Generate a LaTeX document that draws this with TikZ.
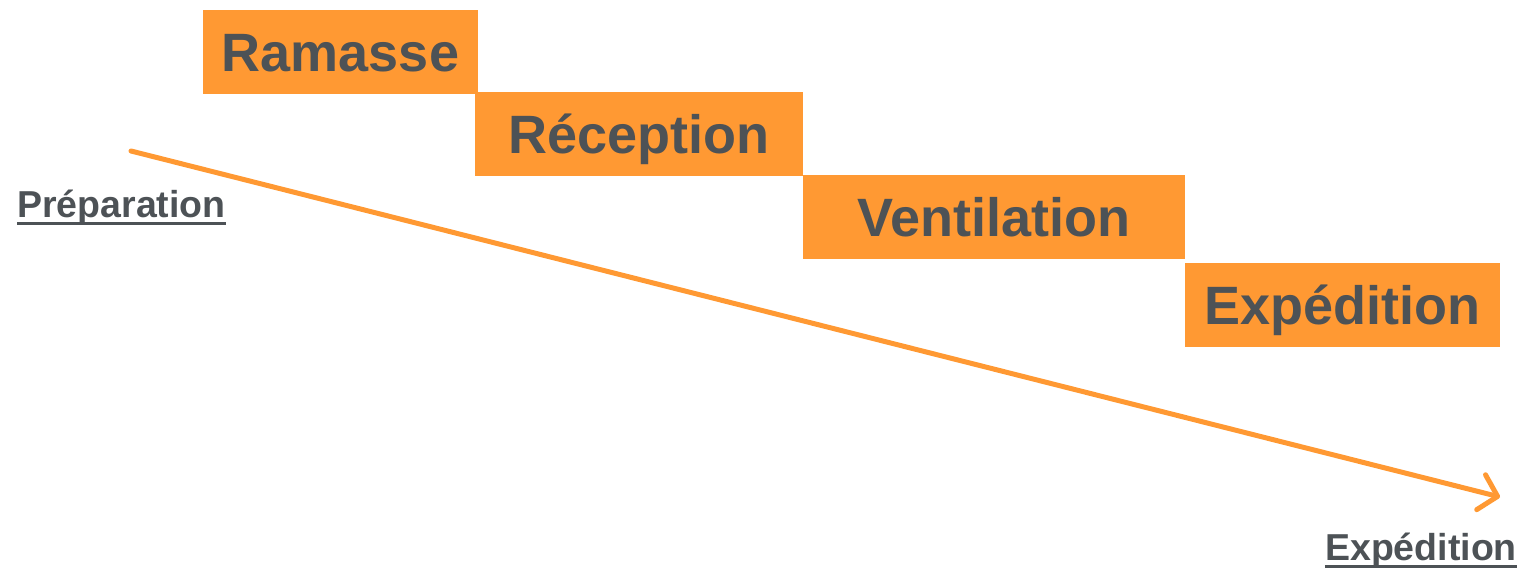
\documentclass[tikz,border=0pt]{standalone}
\usepackage{fontspec}
\setmainfont{Liberation Sans}
\usetikzlibrary{arrows.meta,calc}
\definecolor{boxorange}{RGB}{255,153,51}
\definecolor{txtgray}{RGB}{77,82,86}
\tikzset{
  stepbox/.style={fill=boxorange, inner sep=0pt, text=txtgray,
    font=\fontsize{54}{60}\selectfont\bfseries,
    text height=39pt, text depth=0pt, minimum height=84pt},
  endlabel/.style={inner sep=0pt, text=txtgray,
    font=\fontsize{37.5}{42}\selectfont\bfseries},
  underl/.style={draw=txtgray, line width=3pt},
  flow/.style={draw=boxorange, line width=5pt, line cap=round,
    -{Straight Barb[length=17pt, width=36pt, line width=5pt, round]}}
}
\begin{document}
\begin{tikzpicture}[x=1pt,y=-1pt]
\useasboundingbox (0,0) rectangle (1521,569);
\node[stepbox, minimum width=275pt] (ramasse) at (340.5,52) {Ramasse};
\node[stepbox, minimum width=328pt] (reception) at (639,134.5) {Réception};
\node[stepbox, minimum width=382pt] (ventilation) at (994,217) {Ventilation};
\node[stepbox, minimum width=315pt] (expedition) at (1342.5,305.5) {Expédition};
\coordinate (start) at (131,151);
\coordinate (end) at (1500,497);
\draw[flow] (start) -- (end);
\node[endlabel, anchor=base west] (prep) at (17,218) {Préparation};
\draw[underl] ($(prep.base west)+(0,6)$) -- ($(prep.base east)+(0,6)$);
\node[endlabel, anchor=base east] (exped) at (1517,560) {Expédition};
\draw[underl] ($(exped.base west)+(0,6)$) -- ($(exped.base east)+(0,6)$);
\end{tikzpicture}
\end{document}
